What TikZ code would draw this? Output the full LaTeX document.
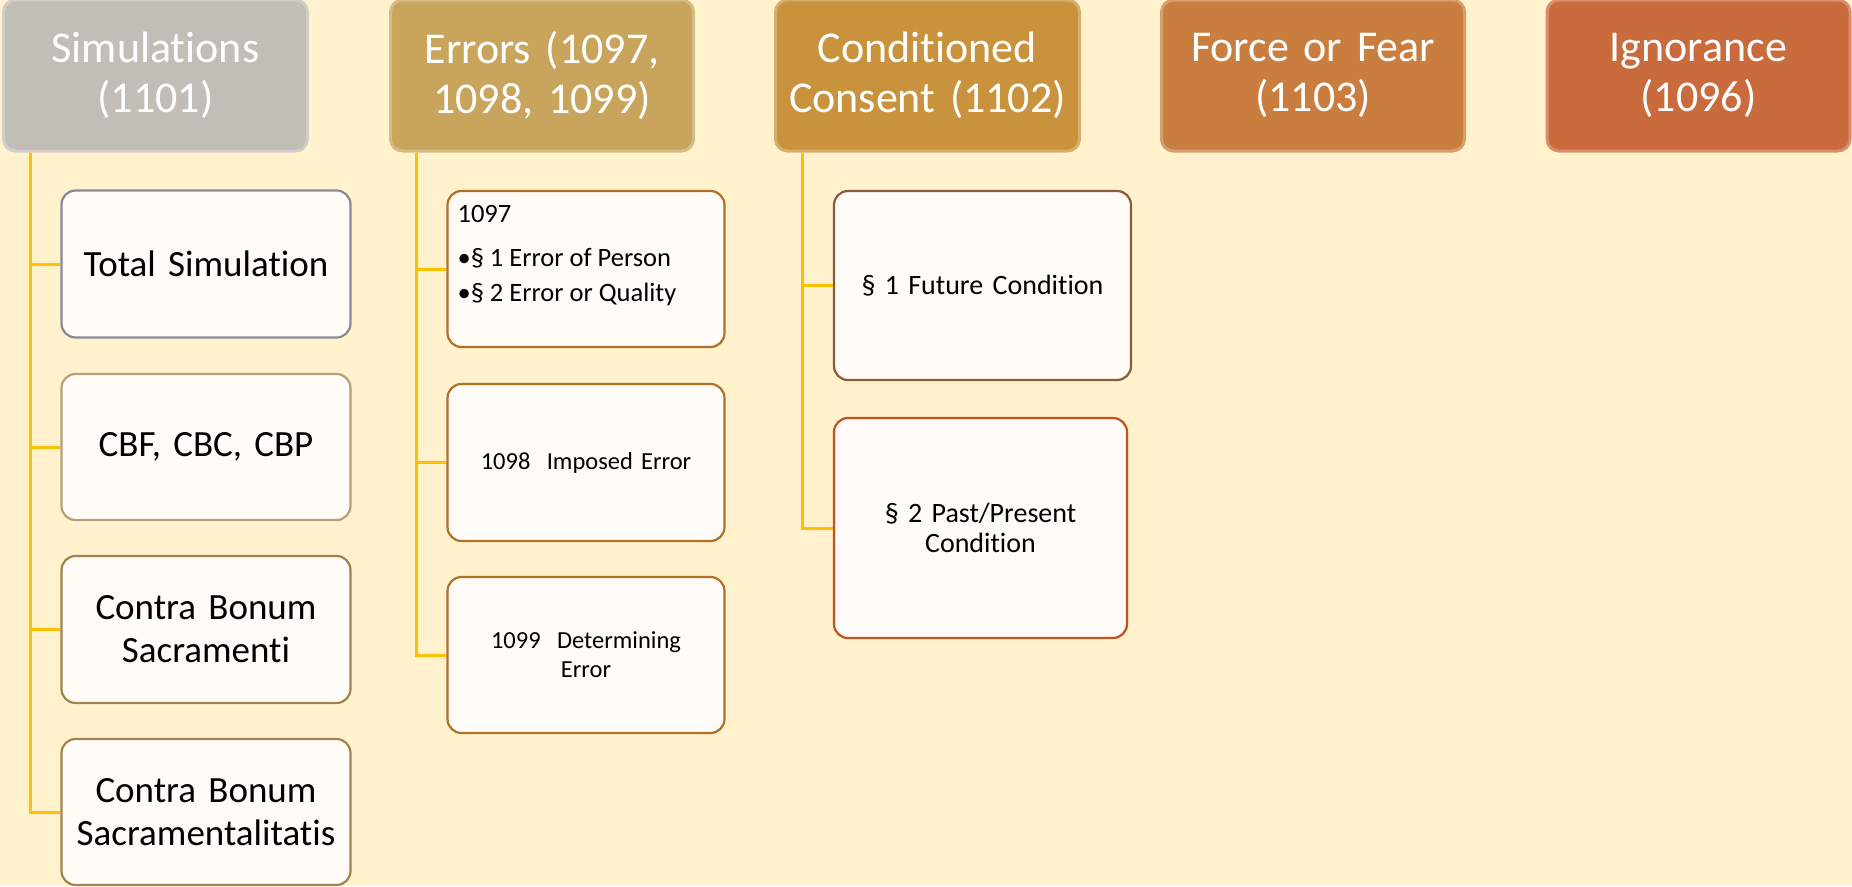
\documentclass[tikz,border=0pt]{standalone}
\usepackage{fontspec}
\setmainfont{Carlito}[Ligatures=NoCommon]
\frenchspacing
\usetikzlibrary{calc}
\definecolor{bgc}{HTML}{FFF2CD}
\definecolor{connc}{HTML}{FFC000}
\definecolor{simc}{HTML}{C2BDB6}
\definecolor{errc}{HTML}{C9A45C}
\definecolor{conc}{HTML}{C8933C}
\definecolor{ffc}{HTML}{C97E40}
\definecolor{ignc}{HTML}{C96B3C}
\definecolor{tsb}{HTML}{8A8A96}
\definecolor{cbfb}{HTML}{B4A07A}
\definecolor{cbb}{HTML}{A0844E}
\definecolor{errb}{HTML}{B0702A}
\definecolor{fab}{HTML}{8E5A3C}
\definecolor{fbb}{HTML}{C8501E}
\definecolor{boxfill}{HTML}{FFFBF6}
\tikzset{
  header/.style={rounded corners=12pt, minimum height=151pt, text width=290pt, align=center,
    text=white, font=\fontsize{44}{50}\selectfont, inner sep=0pt,
    fill=#1, draw=#1!75!white, line width=3pt},
  child/.style={rounded corners=14pt, fill=boxfill, draw=#1, line width=2.2pt, inner sep=0pt, align=center},
  conn/.style={draw=connc, line width=3pt},
}
\begin{document}
\begin{tikzpicture}[x=1pt,y=-1pt]
\fill[bgc] (0,0) rectangle (1852,886);
\useasboundingbox (0,0) rectangle (1852,886);

% headers
\node[header=simc, minimum width=304pt] (sim) at (155.5,75.5) {Simulations\\(1101)};
\node[header=errc, minimum width=303pt] (err) at (542,75.5) {Errors (1097,\\1098, 1099)};
\node[header=conc, minimum width=304pt] (con) at (927.5,75.5) {Conditioned\\Consent (1102)};
\node[header=ffc, minimum width=303pt] (ff) at (1313,75.5) {Force or Fear\\(1103)};
\node[header=ignc, minimum width=303pt] (ign) at (1698.5,75.5) {Ignorance\\(1096)};

% Simulations children
\tikzset{lefttxt/.style={font=\fontsize{37}{43}\selectfont, minimum width=289pt, text width=280pt}}
\node[child=tsb, lefttxt, minimum height=147pt] (ts) at (206,264) {Total Simulation};
\node[child=cbfb, lefttxt, minimum height=146pt] (cbf) at (206,447) {CBF, CBC, CBP};
\node[child=cbb, lefttxt, minimum height=147pt] (cbs) at (206,629.5) {Contra Bonum\\Sacramenti};
\node[child=cbb, lefttxt, minimum height=146pt] (cbsl) at (206,812) {Contra Bonum\\Sacramentalitatis};

% Errors children
\tikzset{errtxt/.style={font=\fontsize{24.5}{29}\selectfont, minimum width=277pt, text width=270pt}}
\node[child=errb, errtxt, minimum height=156pt] (e1097) at (586,269) {};
\node[anchor=north west, align=left, inner sep=0pt, font=\fontsize{26.5}{35}\selectfont]
  (e1097t) at ($(e1097.north west)+(11,15)$) {1097\\[9pt]\textbullet§ 1 Error of Person\\\textbullet§ 2 Error or Quality};
\node[child=errb, errtxt, minimum height=157pt] (e1098) at (586,462.5) {1098~~Imposed Error};
\node[child=errb, errtxt, minimum height=156pt] (e1099) at (586,655) {1099~~Determining\\Error};

% Conditioned children
\tikzset{contxt/.style={font=\fontsize{28}{30}\selectfont, text width=285pt}}
\node[child=fab, contxt, minimum width=297pt, minimum height=189pt] (f1) at (982.5,285.5) {§ 1 Future Condition};
\node[child=fbb, contxt, minimum width=293pt, minimum height=220pt] (f2) at (980.5,528) {§ 2 Past/Present\\Condition};

% connectors
\draw[conn] ($(sim.south west)+(28,0)$) |- (ts.west);
\draw[conn] ($(sim.south west)+(28,0)$) |- (cbf.west);
\draw[conn] ($(sim.south west)+(28,0)$) |- (cbs.west);
\draw[conn] ($(sim.south west)+(28,0)$) |- (cbsl.west);
\draw[conn] ($(err.south west)+(27,0)$) |- (e1097.west);
\draw[conn] ($(err.south west)+(27,0)$) |- (e1098.west);
\draw[conn] ($(err.south west)+(27,0)$) |- (e1099.west);
\draw[conn] ($(con.south west)+(28,0)$) |- (f1.west);
\draw[conn] ($(con.south west)+(28,0)$) |- (f2.west);
\end{tikzpicture}
\end{document}
